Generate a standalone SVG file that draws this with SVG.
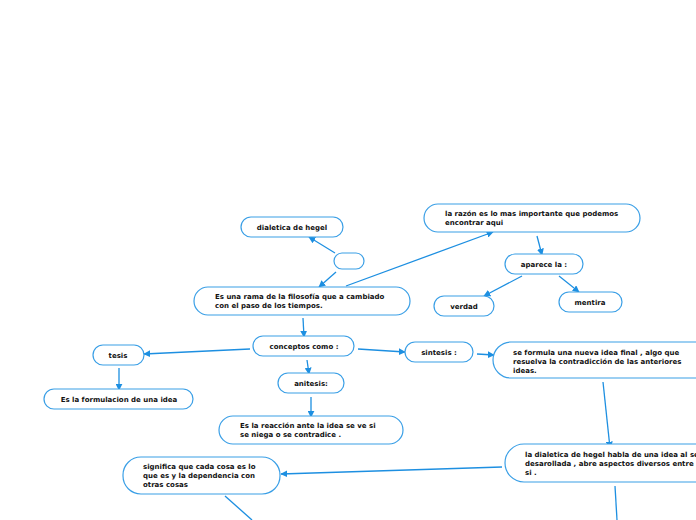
<svg xmlns="http://www.w3.org/2000/svg" width="696" height="520" viewBox="0 0 696 520">
<defs>
<marker id="ah" viewBox="0 0 10 10" refX="9" refY="5" markerWidth="7" markerHeight="7" markerUnits="userSpaceOnUse" orient="auto">
<path d="M0,0 L10,5 L0,10 z" fill="#1d8fe1"/>
</marker>
<style>
.n rect{fill:#fff;stroke:#3a9fe6;stroke-width:1.2}
.n text{font-family:"DejaVu Sans",Verdana,sans-serif;font-weight:bold;font-size:7px;fill:#111}
.c{text-anchor:middle}
#edges line{stroke:#1d8fe1;stroke-width:1.3;fill:none}
#edges .a{marker-end:url(#ah)}
</style>
</defs>
<rect width="696" height="520" fill="#fff"/>
<g id="edges">
<line class="a" x1="335" y1="253" x2="309" y2="237"/>
<line class="a" x1="336" y1="272" x2="319" y2="287"/>
<line class="a" x1="346" y1="286" x2="493" y2="232"/>
<line class="a" x1="537" y1="236" x2="542" y2="255"/>
<line class="a" x1="522" y1="276" x2="484" y2="296"/>
<line class="a" x1="559" y1="276" x2="579" y2="292"/>
<line class="a" x1="303" y1="318" x2="304" y2="337"/>
<line class="a" x1="250" y1="349" x2="144" y2="354"/>
<line class="a" x1="119" y1="368" x2="119" y2="390"/>
<line class="a" x1="307" y1="360" x2="309" y2="374"/>
<line class="a" x1="311" y1="397" x2="311" y2="417"/>
<line class="a" x1="358" y1="349" x2="405" y2="352"/>
<line class="a" x1="477" y1="354" x2="494" y2="355"/>
<line class="a" x1="603" y1="382" x2="610" y2="448"/>
<line class="a" x1="502" y1="467" x2="281" y2="474"/>
<line x1="225" y1="496" x2="252" y2="520"/>
<line x1="615" y1="486" x2="617" y2="520"/>
</g>
<g id="n1" class="n"><rect x="241" y="217" width="102" height="20" rx="10"/><text class="c" x="292" y="230">dialetica de hegel</text></g>
<g id="n2" class="n"><rect x="334" y="253" width="30" height="16" rx="8"/></g>
<g id="n3" class="n"><rect x="194" y="287" width="216" height="28" rx="14"/><text x="215" y="299">Es una rama de la filosofía que a cambiado</text><text x="215" y="308">con el paso de los tiempos.</text></g>
<g id="n4" class="n"><rect x="424" y="204" width="216" height="28" rx="14"/><text x="445" y="216">la razón es lo mas importante que podemos</text><text x="445" y="225">encontrar aqui</text></g>
<g id="n5" class="n"><rect x="505" y="254" width="78" height="20" rx="10"/><text class="c" x="544" y="267">aparece la :</text></g>
<g id="n6" class="n"><rect x="434" y="296" width="60" height="20" rx="10"/><text class="c" x="464" y="309">verdad</text></g>
<g id="n7" class="n"><rect x="559" y="292" width="63" height="20" rx="10"/><text class="c" x="590" y="305">mentira</text></g>
<g id="n8" class="n"><rect x="253" y="336" width="101" height="20" rx="10"/><text class="c" x="304" y="349">conceptos como :</text></g>
<g id="n9" class="n"><rect x="93" y="345" width="51" height="20" rx="10"/><text class="c" x="118" y="358">tesis</text></g>
<g id="n10" class="n"><rect x="44" y="389" width="149" height="20" rx="10"/><text class="c" x="119" y="402">Es la formulacion de una idea</text></g>
<g id="n11" class="n"><rect x="278" y="373" width="66" height="20" rx="10"/><text class="c" x="311" y="386">anitesis:</text></g>
<g id="n12" class="n"><rect x="219" y="416" width="184" height="28" rx="14"/><text x="240" y="428">Es la reacción ante la idea se ve si</text><text x="240" y="437">se niega o se contradice .</text></g>
<g id="n13" class="n"><rect x="405" y="342" width="68" height="20" rx="10"/><text class="c" x="439" y="355">sintesis :</text></g>
<g id="n14" class="n"><rect x="493" y="342" width="222" height="36" rx="18"/><text x="513" y="355">se formula una nueva idea final , algo que</text><text x="513" y="364">resuelva la contradicción de las anteriores</text><text x="513" y="373">ideas.</text></g>
<g id="n15" class="n"><rect x="505" y="444" width="222" height="38" rx="19"/><text x="525" y="457">la dialetica de hegel habla de una idea al ser</text><text x="525" y="466">desarollada , abre aspectos diversos entre</text><text x="525" y="475">si .</text></g>
<g id="n16" class="n"><rect x="123" y="457" width="157" height="37" rx="18"/><text x="143" y="469">significa que cada cosa es lo</text><text x="143" y="478">que es y la dependencia con</text><text x="143" y="487">otras cosas</text></g>
</svg>
